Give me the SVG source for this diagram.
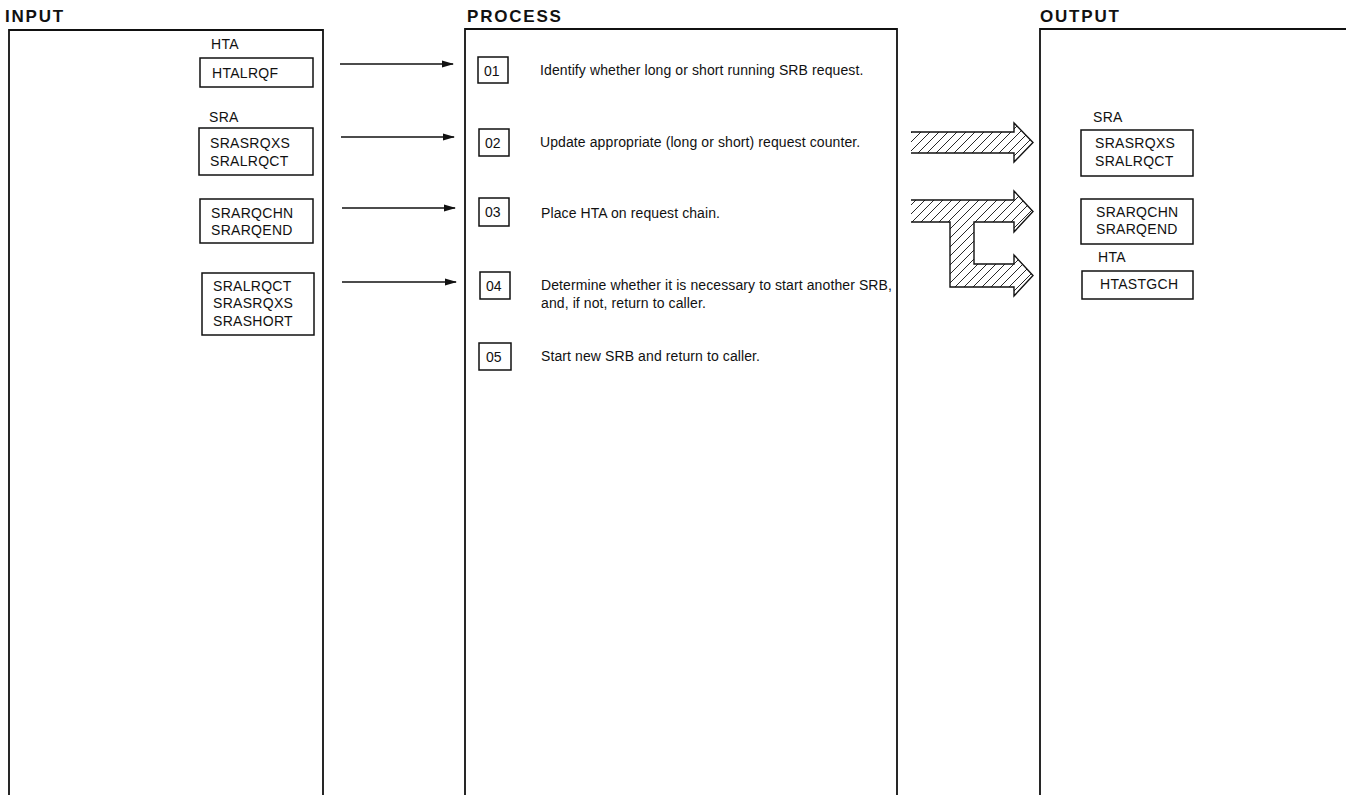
<svg xmlns="http://www.w3.org/2000/svg" width="1346" height="795" viewBox="0 0 1346 795">
<defs>
<style>
.h{font-family:"Liberation Sans",Arial,sans-serif;font-weight:bold;font-size:17px;letter-spacing:1.8px;fill:#111}
.t{font-family:"Liberation Sans",Arial,sans-serif;font-size:14px;letter-spacing:0.3px;fill:#111}
.d{font-family:"Liberation Sans",Arial,sans-serif;font-size:14px;letter-spacing:0.1px;fill:#111}
.s{font-family:"Liberation Sans",Arial,sans-serif;font-size:14px;fill:#111}
.panel{fill:none;stroke:#111;stroke-width:1.8}
.box{fill:none;stroke:#111;stroke-width:1.5}
.ln{stroke:#111;stroke-width:1.3;fill:none}
.hatchfill{fill:url(#hatch);stroke:none}
.hatchedge{fill:none;stroke:#111;stroke-width:1.4;stroke-linejoin:miter}
</style>
<pattern id="hatch" patternUnits="userSpaceOnUse" width="9" height="9">
<path d="M-1,10 L10,-1 M-2,2 L2,-2 M7,11 L11,7" stroke="#111" stroke-width="0.9"/>
</pattern>
<marker id="ah" markerWidth="12" markerHeight="8" refX="11" refY="4" orient="auto" markerUnits="userSpaceOnUse">
<path d="M0,0.5 L12,4 L0,7.5 Z" fill="#111"/>
</marker>
</defs>
<rect width="1346" height="795" fill="#fff"/>

<text class="h" x="5" y="22">INPUT</text>
<text class="h" x="467" y="22">PROCESS</text>
<text class="h" x="1040" y="22">OUTPUT</text>

<g id="input-panel">
<path class="panel" d="M9,800 L9,30 L323,30 L323,800"/>
</g>
<g id="process-panel">
<path class="panel" d="M465,800 L465,29 L897,29 L897,800"/>
</g>
<g id="output-panel">
<path class="panel" d="M1040,800 L1040,29 L1350,29"/>
</g>

<g id="in-hta">
<text class="t" x="211" y="49">HTA</text>
<rect class="box" x="200" y="58" width="113" height="29"/>
<text class="t" x="212" y="78">HTALRQF</text>
</g>
<g id="in-sra1">
<text class="t" x="209" y="122">SRA</text>
<rect class="box" x="199" y="128" width="114" height="47"/>
<text class="t" x="210" y="148">SRASRQXS</text>
<text class="t" x="210" y="166">SRALRQCT</text>
</g>
<g id="in-sra2">
<rect class="box" x="200" y="199" width="113" height="44"/>
<text class="t" x="211" y="218">SRARQCHN</text>
<text class="t" x="211" y="235">SRARQEND</text>
</g>
<g id="in-sra3">
<rect class="box" x="202" y="273" width="112" height="62"/>
<text class="t" x="213" y="291">SRALRQCT</text>
<text class="t" x="213" y="308">SRASRQXS</text>
<text class="t" x="213" y="326">SRASHORT</text>
</g>

<g id="step01">
<rect class="box" x="478" y="57" width="30" height="26"/>
<text class="s" x="484" y="76">01</text>
<text class="d" x="540" y="75">Identify whether long or short running SRB request.</text>
</g>
<g id="step02">
<rect class="box" x="479" y="129" width="30" height="27"/>
<text class="s" x="485" y="148">02</text>
<text class="d" x="540" y="147">Update appropriate (long or short) request counter.</text>
</g>
<g id="step03">
<rect class="box" x="479" y="198" width="30" height="28"/>
<text class="s" x="485" y="217">03</text>
<text class="d" x="541" y="218">Place HTA on request chain.</text>
</g>
<g id="step04">
<rect class="box" x="480" y="272" width="30" height="27"/>
<text class="s" x="486" y="291">04</text>
<text class="d" x="541" y="290">Determine whether it is necessary to start another SRB,</text>
<text class="d" x="541" y="308">and, if not, return to caller.</text>
</g>
<g id="step05">
<rect class="box" x="479" y="343" width="32" height="27"/>
<text class="s" x="486" y="362">05</text>
<text class="d" x="541" y="361">Start new SRB and return to caller.</text>
</g>

<g id="out-sra1">
<text class="t" x="1093" y="122">SRA</text>
<rect class="box" x="1081" y="130" width="112" height="46"/>
<text class="t" x="1095" y="148">SRASRQXS</text>
<text class="t" x="1095" y="166">SRALRQCT</text>
</g>
<g id="out-sra2">
<rect class="box" x="1081" y="199" width="112" height="45"/>
<text class="t" x="1096" y="217">SRARQCHN</text>
<text class="t" x="1096" y="234">SRARQEND</text>
</g>
<g id="out-hta">
<text class="t" x="1098" y="262">HTA</text>
<rect class="box" x="1082" y="271" width="111" height="28"/>
<text class="t" x="1100" y="289">HTASTGCH</text>
</g>

<g id="connectors">
<line class="ln" x1="340" y1="64" x2="453" y2="64" marker-end="url(#ah)"/>
<line class="ln" x1="341" y1="137" x2="454" y2="137" marker-end="url(#ah)"/>
<line class="ln" x1="342" y1="208" x2="455" y2="208" marker-end="url(#ah)"/>
<line class="ln" x1="342" y1="282" x2="456" y2="282" marker-end="url(#ah)"/>

<path class="hatchfill" d="M911,132 L1014,132 L1014,123 L1033,142.5 L1014,162 L1014,153 L911,153 Z"/>
<path class="hatchedge" d="M911,132 L1014,132 L1014,123 L1033,142.5 L1014,162 L1014,153 L911,153"/>

<path class="hatchfill" d="M911,200 L1014,200 L1014,191 L1033,211.5 L1014,232 L1014,222 L974,222 L974,264 L1014,264 L1014,255 L1033,275.5 L1014,296 L1014,287 L950,287 L950,222 L911,222 Z"/>
<path class="hatchedge" d="M911,200 L1014,200 L1014,191 L1033,211.5 L1014,232 L1014,222 L974,222 L974,264 L1014,264 L1014,255 L1033,275.5 L1014,296 L1014,287 L950,287 L950,222 L911,222"/>
</g>
</svg>
